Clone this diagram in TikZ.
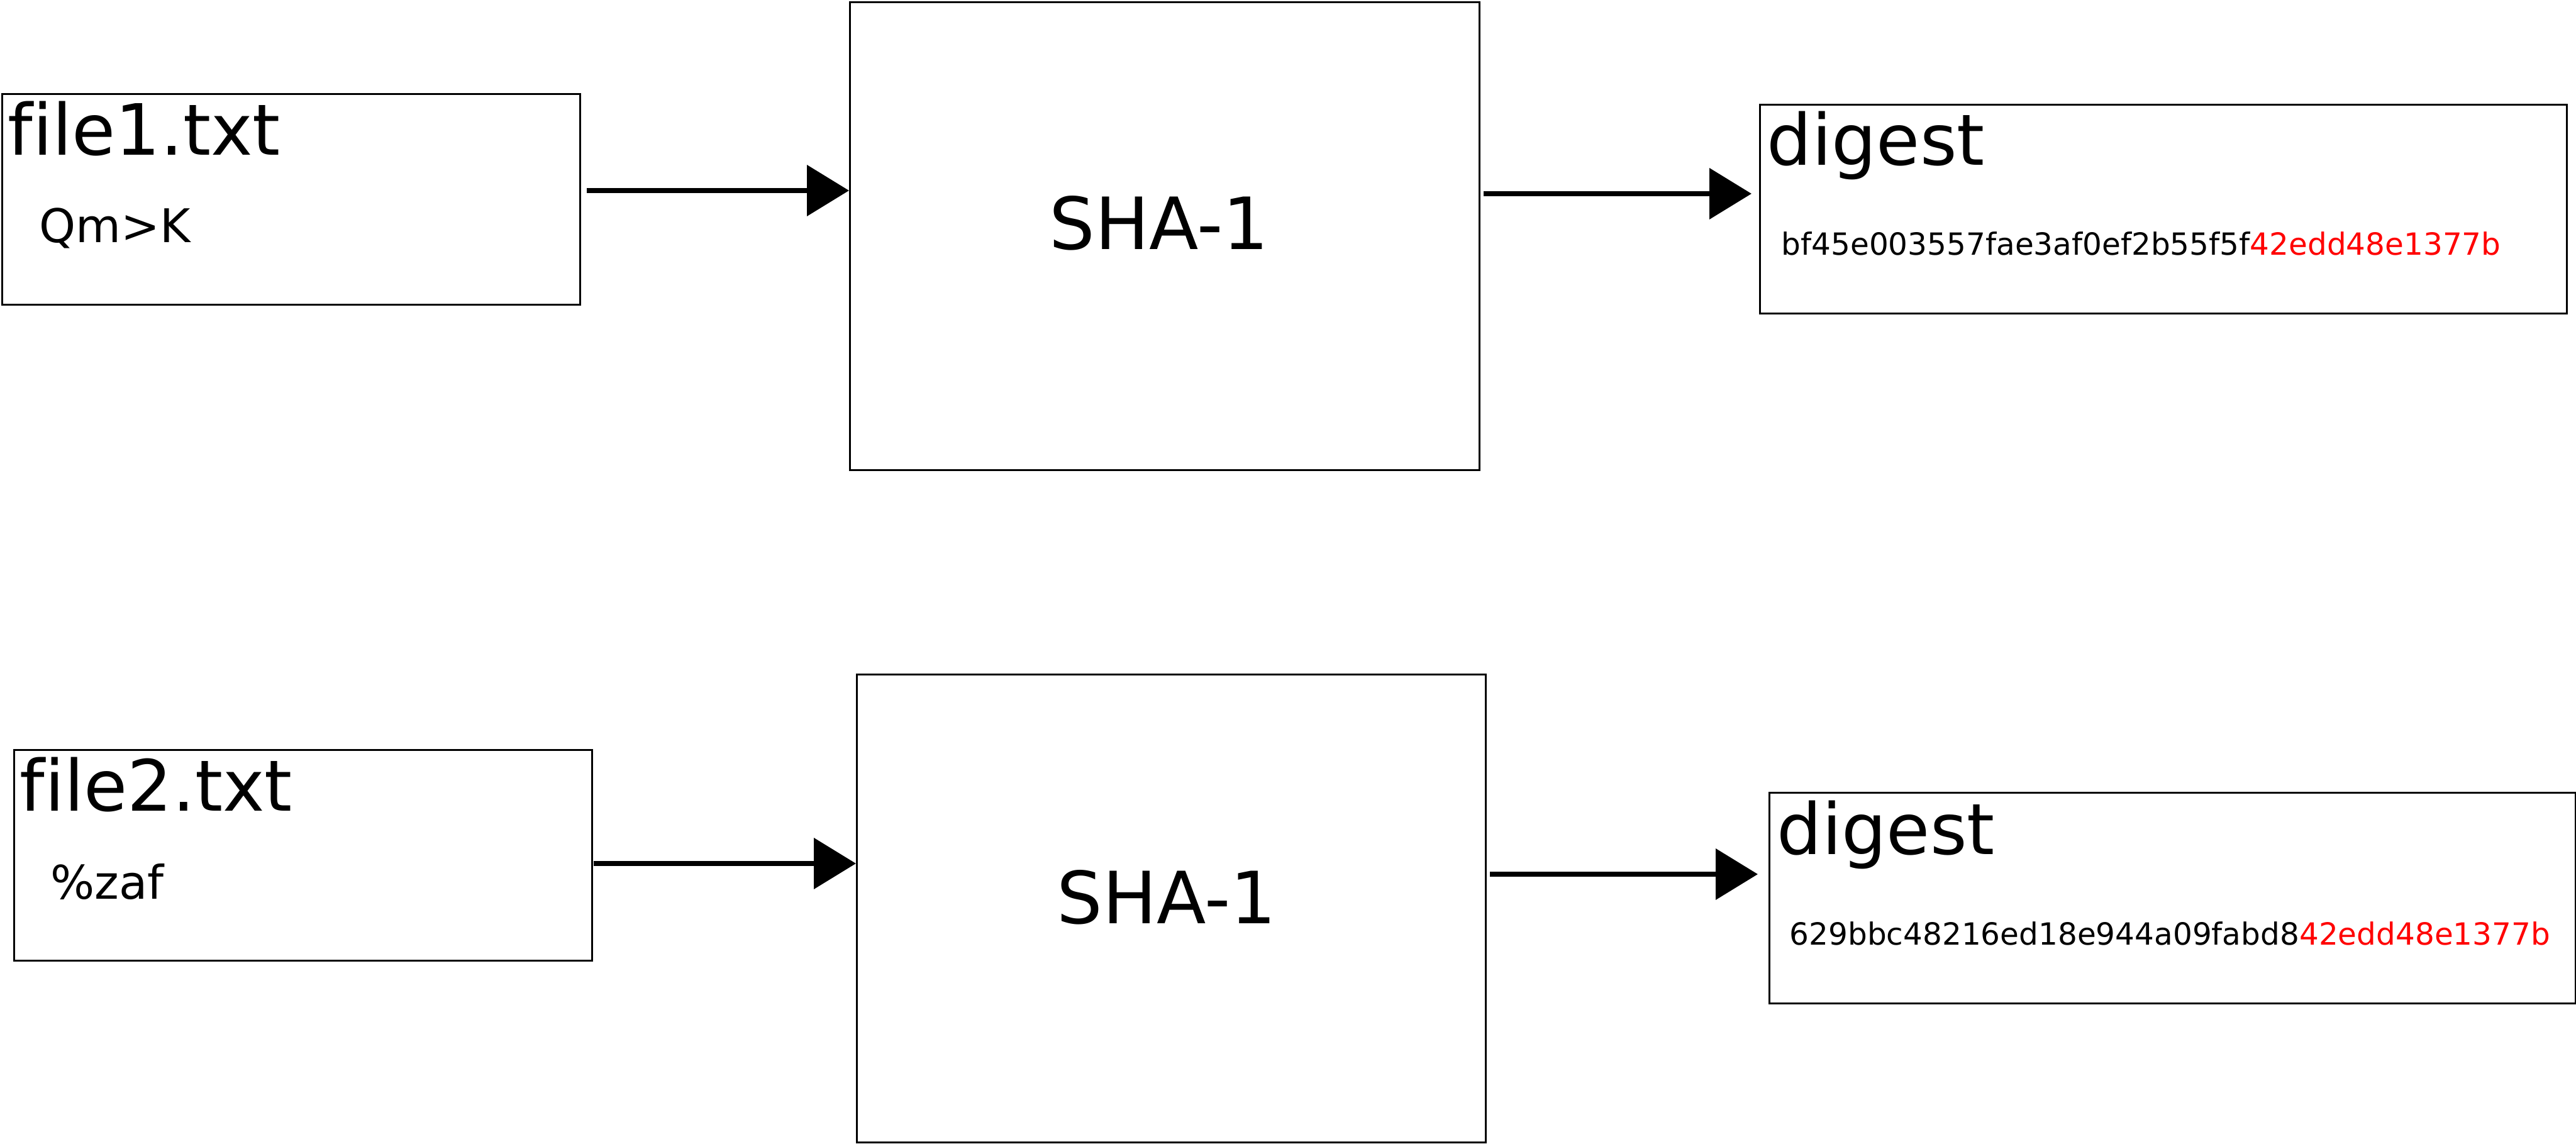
\documentclass[tikz,border=0pt]{standalone}
\usepackage{fontspec}
\setmainfont{DejaVu Sans}[Ligatures=NoCommon]
\usepackage{xcolor}
\usetikzlibrary{positioning, arrows.meta}

\begin{document}
\begin{tikzpicture}[
    box/.style={draw,rectangle,line width=0.8pt,inner sep=0pt,anchor=north west},
    title/.style={anchor=base west,inner sep=0pt,font=\fontsize{32}{38}\selectfont},
    content/.style={anchor=base west,inner sep=0pt,font=\fontsize{21}{25}\selectfont},
    hash/.style={anchor=base west,inner sep=0pt,font=\fontsize{13.8}{16}\selectfont},
    algo/.style={anchor=base,inner sep=0pt,font=\fontsize{32.6}{38}\selectfont},
    flow/.style={-{Triangle[length=0.67cm,width=0.8cm]},line width=2.2pt}]
  \useasboundingbox (0,0) rectangle (40.96,18.18);

  \node[box,minimum width=9.19cm,minimum height=3.35cm] (file1) at (0.02,16.70) {};
  \node[box,minimum width=10.01cm,minimum height=7.44cm] (sha1) at (13.50,18.16) {};
  \node[box,minimum width=12.83cm,minimum height=3.32cm] (digest1) at (27.97,16.53) {};
  \node[title] (name1) at (0.12,15.71) {file1.txt};
  \node[content] (data1) at (0.62,14.32) {Qm>K};
  \node[algo] (algo1) at (18.43,14.21) {SHA-1};
  \node[title] (dtitle1) at (28.09,15.55) {digest};
  \node[hash] (hash1) at (28.32,14.12) {bf45e003557fae3af0ef2b55f5f\textcolor{red}{42edd48e1377b}};

  \node[box,minimum width=9.19cm,minimum height=3.35cm] (file2) at (0.21,6.27) {};
  \node[box,minimum width=10.00cm,minimum height=7.44cm] (sha2) at (13.61,7.47) {};
  \node[box,minimum width=12.82cm,minimum height=3.35cm] (digest2) at (28.12,5.59) {};
  \node[title] (name2) at (0.31,5.28) {file2.txt};
  \node[content] (data2) at (0.80,3.89) {\%zaf};
  \node[algo] (algo2) at (18.55,3.50) {SHA-1};
  \node[title] (dtitle2) at (28.25,4.59) {digest};
  \node[hash] (hash2) at (28.45,3.16) {629bbc48216ed18e944a09fabd8\textcolor{red}{42edd48e1377b}};

  \coordinate (in1) at (9.33,15.15);
  \coordinate (out1) at (23.59,15.10);
  \coordinate (in2) at (9.44,4.45);
  \coordinate (out2) at (23.69,4.28);
  \draw[flow] (in1) -- (in1 -| sha1.west);
  \draw[flow,shorten >=0.12cm] (out1) -- (out1 -| digest1.west);
  \draw[flow] (in2) -- (in2 -| sha2.west);
  \draw[flow,shorten >=0.17cm] (out2) -- (out2 -| digest2.west);
\end{tikzpicture}
\end{document}
